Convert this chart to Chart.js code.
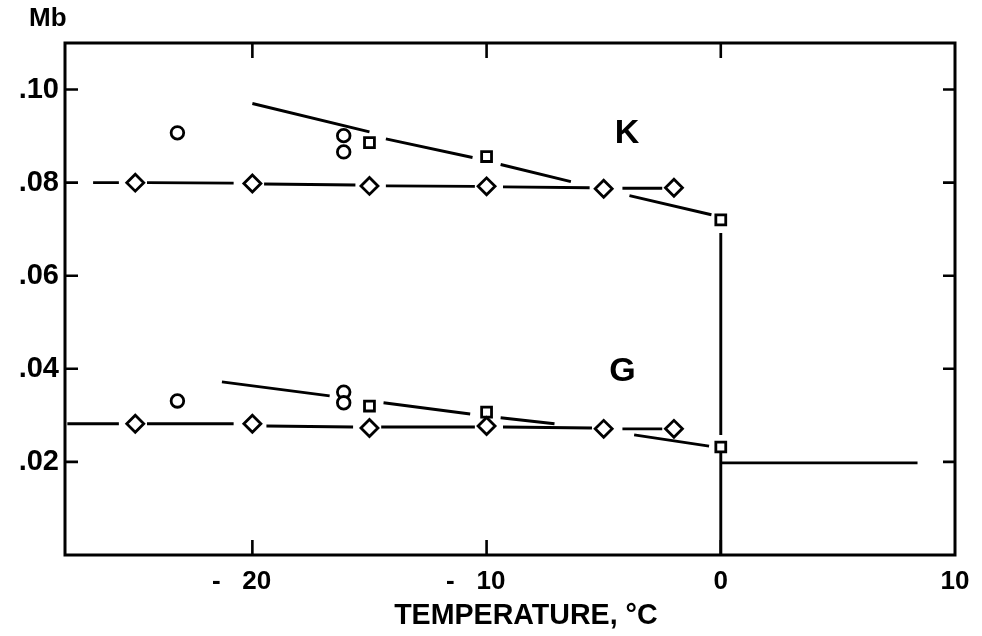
<!DOCTYPE html>
<html><head><meta charset="utf-8">
<script src="https://cdn.jsdelivr.net/npm/chart.js@4"></script>
<style>html,body{margin:0;padding:0;background:#fff}canvas{display:block}</style>
</head><body>
<canvas id="c" width="982" height="636"></canvas>
<script>
// ---- tick labels ----
const xTickVals = [-20, -10, 0, 10];
const xTickLabels = ['-   20   ', '-   10   ', '0', '10'];
const yTickVals = [0.02, 0.04, 0.06, 0.08, 0.10];
const yTickLabels = ['.02', '.04', '.06', '.08', '.10'];
const xTitle = '    TEMPERATURE, °C';

// ---- K (upper) ----
const kDiamondT  = [-25, -20, -15, -10, -5, -2];
const kDiamondMb = [0.0800, 0.0798, 0.0793, 0.0792, 0.0787, 0.0789];
const kSquareT   = [-15, -10, 0];
const kSquareMb  = [0.0886, 0.0856, 0.0720];
const kCircleT   = [-23.2, -16.1, -16.1];
const kCircleMb  = [0.0907, 0.0901, 0.0866];
const kFitT  = [-20.0, -15.0, null, -14.3, -10.6, null, -9.4, -6.4, null, -3.9, -0.4];
const kFitMb = [0.0970, 0.0909, null, 0.0894, 0.0854, null, 0.0839, 0.0802, null, 0.0772, 0.0731];
const kLineT  = [-26.8, -25.7, null, -24.5, -20.8, null, -19.5, -15.6, null, -14.3, -10.5, null, -9.3, -5.6, null, -4.2, -2.5];
const kLineMb = [0.0800, 0.0800, null, 0.0800, 0.0799, null, 0.0797, 0.0795, null, 0.0793, 0.0792, null, 0.0791, 0.0789, null, 0.0788, 0.0788];

// ---- G (lower) ----
const gDiamondT  = [-25, -20, -15, -10, -5, -2];
const gDiamondMb = [0.0282, 0.0282, 0.0273, 0.0277, 0.0271, 0.0271];
const gSquareT   = [-15, -10, 0];
const gSquareMb  = [0.0320, 0.0307, 0.0232];
const gCircleT   = [-23.2, -16.1, -16.1];
const gCircleMb  = [0.0331, 0.0350, 0.0327];
const gFitT  = [-21.3, -16.7, null, -14.4, -10.7, null, -9.4, -7.1, null, -3.7, -0.5];
const gFitMb = [0.0372, 0.0342, null, 0.0327, 0.0303, null, 0.0295, 0.0282, null, 0.0258, 0.0234];
const gLineT  = [-27.9, -25.7, null, -24.5, -20.8, null, -19.4, -15.7, null, -14.5, -10.5, null, -9.3, -5.5, null, -4.2, -2.5];
const gLineMb = [0.0282, 0.0282, null, 0.0282, 0.0282, null, 0.0277, 0.0275, null, 0.0275, 0.0275, null, 0.0275, 0.0273, null, 0.0271, 0.0271];

// ---- melting step ----
const stepT  = [0, 0, null, 0, 0, null, 0, 8.4];
const stepMb = [0.0692, 0.0258, null, 0.0221, 0.0, null, 0.0198, 0.0198];

// ---- text labels ----
const curveLabels = [{text: 'K', t: -4.0, mb: 0.0905}, {text: 'G', t: -4.2, mb: 0.0395}];

const FONT = "'Liberation Sans', Arial, sans-serif";

function pts(xs, ys) {
  let last = 0;
  return xs.map((x, i) => {
    if (x === null || ys[i] === null) return {x: last, y: null};
    last = x; return {x: x, y: ys[i]};
  });
}
function lineDs(xs, ys) {
  return {data: pts(xs, ys), showLine: true, borderColor: '#000', borderWidth: 2.9,
    pointRadius: 0, pointHoverRadius: 0, spanGaps: false, fill: false, order: 2};
}
function markDs(xs, ys, style, r) {
  return {data: pts(xs, ys), showLine: false, pointStyle: style, pointRadius: r, pointHoverRadius: r,
    backgroundColor: '#fff', borderColor: '#000', pointBorderWidth: 2.8, borderWidth: 2.8, order: 1};
}

const framePlugin = {
  id: 'frame',
  beforeDatasetsDraw(chart) {
    const {ctx, chartArea: a, scales: {x, y}} = chart;
    ctx.save();
    ctx.strokeStyle = '#000';
    ctx.lineWidth = 3;
    ctx.strokeRect(a.left, a.top, a.right - a.left, a.bottom - a.top);
    ctx.lineWidth = 2.6;
    ctx.beginPath();
    yTickVals.forEach(v => {
      const py = y.getPixelForValue(v);
      ctx.moveTo(a.left, py); ctx.lineTo(a.left + 13, py);
      ctx.moveTo(a.right, py); ctx.lineTo(a.right - 12, py);
    });
    xTickVals.forEach(v => {
      if (v >= x.max) return;
      const px = x.getPixelForValue(v);
      ctx.moveTo(px, a.bottom); ctx.lineTo(px, a.bottom - 15);
      ctx.moveTo(px, a.top); ctx.lineTo(px, a.top + 15);
    });
    ctx.stroke();
    ctx.restore();
  },
  afterDraw(chart) {
    const {ctx, scales: {x, y}} = chart;
    ctx.save();
    ctx.fillStyle = '#000';
    ctx.textAlign = 'center';
    ctx.textBaseline = 'middle';
    ctx.font = 'bold 34px ' + FONT;
    curveLabels.forEach(l => ctx.fillText(l.text, x.getPixelForValue(l.t), y.getPixelForValue(l.mb)));
    ctx.font = 'bold 26px ' + FONT;
    ctx.textAlign = 'left';
    ctx.fillText('Mb', 29, 19);
    ctx.restore();
  }
};

new Chart(document.getElementById('c'), {
  type: 'scatter',
  data: {datasets: [
    lineDs(kFitT, kFitMb), lineDs(kLineT, kLineMb),
    lineDs(gFitT, gFitMb), lineDs(gLineT, gLineMb),
    lineDs(stepT, stepMb),
    markDs(kDiamondT, kDiamondMb, 'rectRot', 8.5),
    markDs(kSquareT, kSquareMb, 'rect', 7),
    markDs(kCircleT, kCircleMb, 'circle', 6.3),
    markDs(gDiamondT, gDiamondMb, 'rectRot', 8.5),
    markDs(gSquareT, gSquareMb, 'rect', 7),
    markDs(gCircleT, gCircleMb, 'circle', 6.3)
  ]},
  options: {
    responsive: false, animation: false, devicePixelRatio: 1,
    layout: {padding: {top: 43, right: 27, left: 0, bottom: 0}},
    plugins: {legend: {display: false}, tooltip: {enabled: false}},
    scales: {
      x: {
        type: 'linear', min: -28, max: 10,
        grid: {display: false}, border: {display: false},
        afterBuildTicks: s => { s.ticks = xTickVals.map(v => ({value: v})); },
        afterFit: s => { s.height = 81; },
        ticks: {
          color: '#000', padding: 3, maxRotation: 0, autoSkip: false,
          font: {family: FONT, size: 26, weight: 'bold'},
          callback: v => { const i = xTickVals.indexOf(v); return i >= 0 ? xTickLabels[i] : ''; }
        },
        title: {display: true, text: xTitle, color: '#000',
          font: {family: FONT, size: 28.6, weight: 'bold'}, padding: {top: 4, bottom: 3}}
      },
      y: {
        type: 'linear', min: 0, max: 0.11,
        grid: {display: false}, border: {display: false},
        afterBuildTicks: s => { s.ticks = yTickVals.map(v => ({value: v})); },
        afterFit: s => { s.width = 65; },
        ticks: {
          color: '#000', padding: -2, autoSkip: false,
          font: {family: FONT, size: 29, weight: 'bold'},
          callback: v => { const i = yTickVals.findIndex(t => Math.abs(t - v) < 1e-9); return i >= 0 ? yTickLabels[i] : ''; }
        }
      }
    }
  },
  plugins: [framePlugin]
});
</script>
</body></html>
